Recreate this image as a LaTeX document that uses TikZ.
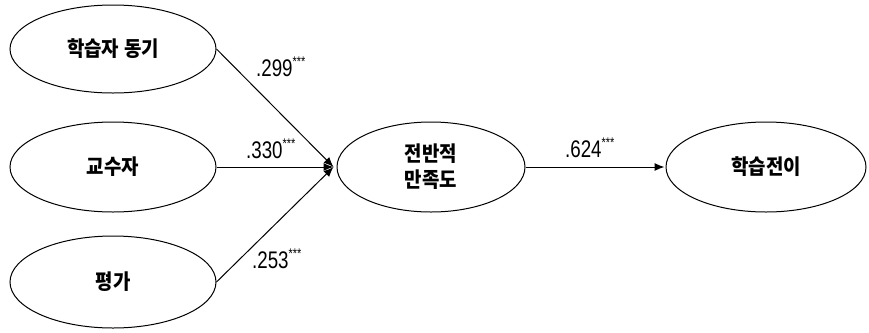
\documentclass[tikz,border=0pt]{standalone}
\usepackage{fontspec}
\usetikzlibrary{shapes.geometric,arrows.meta}
\newfontfamily\krfont[FakeStretch=0.9]{Noto Sans CJK KR}
\newfontfamily\numfont[FakeStretch=0.78]{Liberation Sans}
\newcommand{\stars}{\raisebox{0.38em}{\fontsize{14bp}{14bp}\selectfont ***}}
\tikzset{
  latent/.style={draw=black, line width=1bp, ellipse, inner sep=0pt,
    font=\krfont\bfseries\fontsize{21bp}{26bp}\selectfont, align=center},
  path/.style={draw=black, line width=1bp, -{Latex[length=10bp,width=8bp]}},
  coef/.style={inner sep=0pt, anchor=base west, text=black,
    font=\numfont\fontsize{24bp}{24bp}\selectfont}
}
\begin{document}
\begin{tikzpicture}[x=1bp,y=-1bp]
\useasboundingbox (0,0) rectangle (869,332);
\node[latent, minimum width=206bp, minimum height=88bp] (e1) at (113,49) {학습자\hspace{5bp}동기};
\node[latent, minimum width=206bp, minimum height=90bp] (e2) at (113,167) {교수자};
\node[latent, minimum width=206bp, minimum height=92bp] (e3) at (113,282) {평가};
\node[latent, minimum width=188bp, minimum height=90bp] (e4) at (431,167) {전반적\\만족도};
\node[latent, minimum width=200bp, minimum height=90bp] (e5) at (766,167) {학습전이};
\coordinate (j) at ([xshift=-3bp]e4.west);
\coordinate (k) at ([xshift=-1bp]e5.west);
\draw[path] (e1.east) -- (j);
\draw[path] (e2.east) -- (j);
\draw[path] (e3.east) -- (j);
\draw[path] (e4.east) -- (k);
\node[coef] (c1) at (256,76) {.299\stars};
\node[coef] (c2) at (246,158) {.330\stars};
\node[coef] (c3) at (252,268) {.253\stars};
\node[coef] (c4) at (565,157) {.624\stars};
\end{tikzpicture}
\end{document}
